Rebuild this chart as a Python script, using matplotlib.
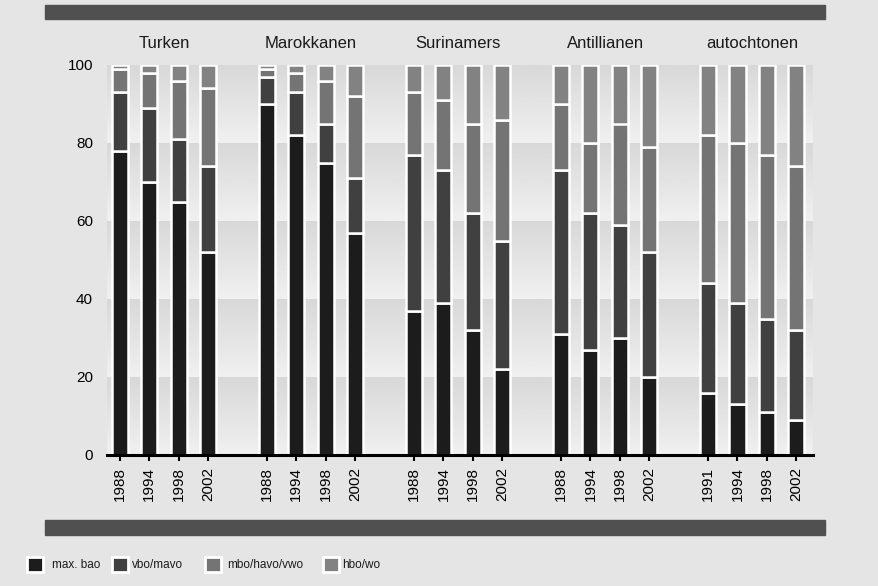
import matplotlib.pyplot as plt
import numpy as np
from matplotlib.patches import Rectangle

plt.rcParams['font.family'] = ['Liberation Sans Narrow', 'Liberation Sans', 'DejaVu Sans']

groepen = ['Turken', 'Marokkanen', 'Surinamers', 'Antillianen', 'autochtonen']
jaren = [
    ['1988', '1994', '1998', '2002'],
    ['1988', '1994', '1998', '2002'],
    ['1988', '1994', '1998', '2002'],
    ['1988', '1994', '1998', '2002'],
    ['1991', '1994', '1998', '2002'],
]
niveaus = ['max. bao', 'vbo/mavo', 'mbo/havo/vwo', 'hbo/wo']

# per groep, per jaar (percentages)
max_bao = [78, 70, 65, 52,   90, 82, 75, 57,   37, 39, 32, 22,   31, 27, 30, 20,   16, 13, 11, 9]
vbo_mavo = [15, 19, 16, 22,  7, 11, 10, 14,    40, 34, 30, 33,   42, 35, 29, 32,   28, 26, 24, 23]
mbo_havo = [6, 9, 15, 20,    2, 5, 11, 21,     16, 18, 23, 31,   17, 18, 26, 27,   38, 41, 42, 42]
hbo_wo = [1, 2, 4, 6,        1, 2, 4, 8,       7, 9, 15, 14,     10, 20, 15, 21,   18, 20, 23, 26]

kleuren = ['#1c1c1c', '#404040', '#747474', '#828282']
bg = '#e5e5e5'

fig = plt.figure(figsize=(8.79, 5.86), dpi=100, facecolor=bg)
ax = fig.add_axes([107/879, 1 - 455/586, 706/879, 390/586])
ax.set_facecolor(bg)

# x-posities: 4 staven per groep, 1 lege plek tussen groepen
xpos = []
labels = []
for g, jr in enumerate(jaren):
    for i, j in enumerate(jr):
        xpos.append(g * 5 + i)
        labels.append(j)
xpos = np.array(xpos)

xmin, xmax = -0.44, 23.57
ax.set_xlim(xmin, xmax)
ax.set_ylim(0, 100)

## achtergrond banden met verloop
grad = np.linspace(0xd8, 0xf0, 60).reshape(-1, 1) / 255
for lo in range(0, 100, 20):
    ax.imshow(grad, cmap='gray', vmin=0, vmax=1, aspect='auto', origin='upper',
              extent=(xmin, xmax, lo, lo + 20), zorder=0)

series = [max_bao, vbo_mavo, mbo_havo, hbo_wo]
bottom = np.zeros(len(xpos))
for vals, kleur, naam in zip(series, kleuren, niveaus):
    vals = np.array(vals, dtype=float)
    ax.bar(xpos, vals, bottom=bottom, width=0.55, color=kleur, edgecolor='white',
           linewidth=1.8, zorder=2, label=naam)
    bottom += vals

for g, naam in enumerate(groepen):
    ax.text(g * 5 + 1.5, 105.5, naam, ha='center', va='center', fontsize=12,
            color='#1a1a1a', clip_on=False)

ax.set_xticks(xpos)
ax.set_xticklabels(labels, rotation=90, fontsize=11)
ax.set_yticks([0, 20, 40, 60, 80, 100])
ax.tick_params(axis='x', direction='inout', length=9, width=1.5, color='black', pad=4)
ax.tick_params(axis='y', length=0, pad=10, labelsize=11)

for s in ['top', 'right', 'left']:
    ax.spines[s].set_visible(False)
ax.spines['bottom'].set_linewidth(2.2)
ax.spines['bottom'].set_zorder(5)

## donkere balken boven en onder
fig.patches.append(Rectangle((45/879, 1 - 19/586), 780/879, 14/586, transform=fig.transFigure,
                             color='#505050', zorder=0))
fig.patches.append(Rectangle((45/879, 1 - 535/586), 780/879, 15/586, transform=fig.transFigure,
                             color='#505050', zorder=0))

## legenda
box_x = [27, 112, 205, 323]
tekst_x = [52, 132, 227, 342]
for bx, tx, kleur, naam in zip(box_x, tekst_x, kleuren, niveaus):
    fig.patches.append(Rectangle((bx/879, 1 - 572/586), 16/879, 15/586, transform=fig.transFigure,
                                 facecolor=kleur, edgecolor='white', linewidth=2))
    fig.text(tx/879, 1 - 565/586, naam, ha='left', va='center', fontsize=8.5, color='#1a1a1a')

plt.savefig('out.png', dpi=100, facecolor=bg)
plt.close()
